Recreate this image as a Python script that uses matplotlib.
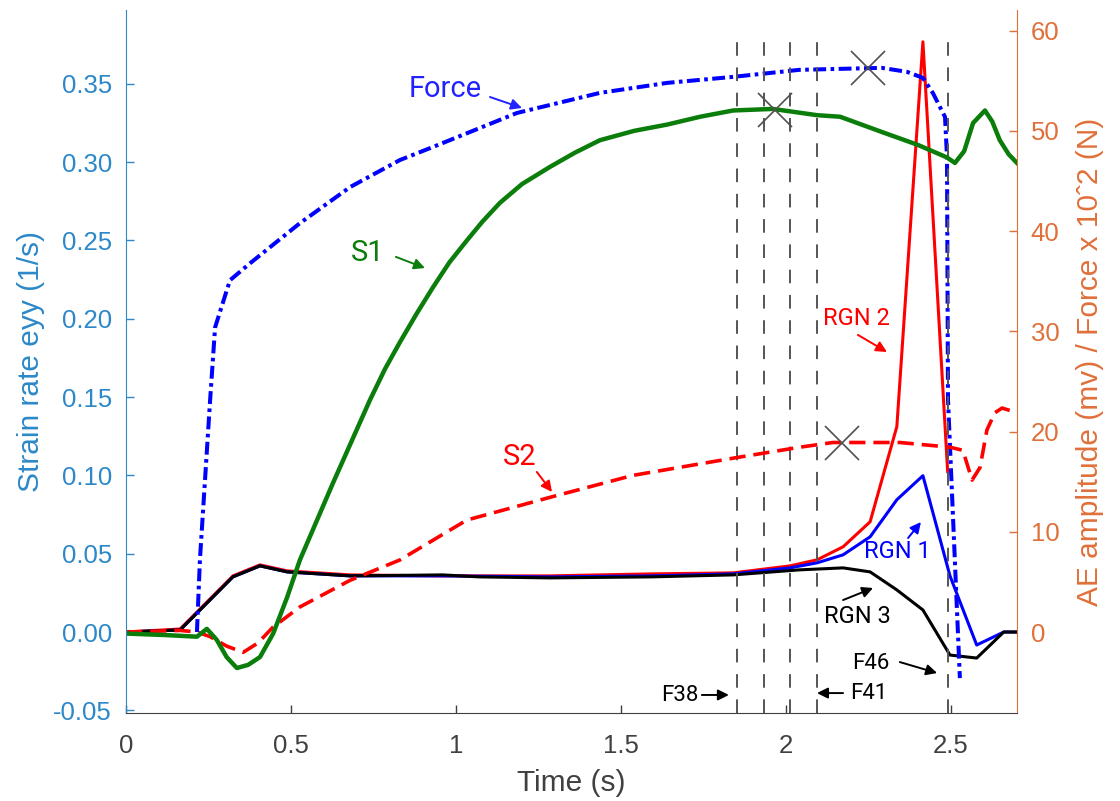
"""
Strain rate / AE amplitude / force vs time
"""

import matplotlib
matplotlib.use('Agg')
import matplotlib.pyplot as plt

plt.rcParams['font.family'] = ['Liberation Sans', 'DejaVu Sans']

# strain rate (left axis)
s1_t = [0, 0.124, 0.215, 0.245, 0.275, 0.305, 0.336, 0.37, 0.406, 0.446, 0.488, 0.527,
        0.627, 0.739, 0.785, 0.83, 0.88, 0.93, 0.98, 1.033, 1.08, 1.133, 1.2, 1.285,
        1.36, 1.436, 1.54, 1.64, 1.74, 1.84, 1.96, 2.094, 2.164, 2.294, 2.4, 2.488,
        2.512, 2.54, 2.567, 2.603, 2.625, 2.648, 2.675, 2.7]
s1_v = [-0.001, -0.002, -0.003, 0.002, -0.005, -0.016, -0.023, -0.021, -0.016, -0.001,
        0.022, 0.046, 0.095, 0.148, 0.168, 0.185, 0.203, 0.220, 0.236, 0.250, 0.262,
        0.274, 0.286, 0.297, 0.306, 0.314, 0.320, 0.324, 0.329, 0.333, 0.334, 0.330,
        0.329, 0.319, 0.311, 0.303, 0.2995, 0.307, 0.325, 0.333, 0.326, 0.314, 0.305,
        0.2995]

s2_t = [0, 0.164, 0.215, 0.255, 0.305, 0.355, 0.4, 0.445, 0.527, 0.679, 0.83, 1.033,
        1.285, 1.536, 1.84, 2.042, 2.142, 2.345, 2.497, 2.536, 2.564, 2.588, 2.609,
        2.633, 2.655, 2.7]
s2_v = [0, 0.001, 0, -0.003, -0.009, -0.013, -0.007, 0.003, 0.016, 0.033, 0.046, 0.0715,
        0.086, 0.100, 0.111, 0.118, 0.121, 0.121, 0.118, 0.116, 0.097, 0.105, 0.129,
        0.140, 0.143, 0.140]

# force x 10^2 and AE amplitude (right axis)
force_t = [0.215, 0.224, 0.255, 0.27, 0.315, 0.376, 0.527, 0.679, 0.83, 0.93, 1.185,
           1.436, 1.64, 1.84, 2.04, 2.29, 2.367, 2.415, 2.445, 2.482, 2.488, 2.491, 2.527]
force_r = [0, 7.2, 23.2, 30.4, 35.1, 36.8, 40.8, 44.4, 47.1, 48.4, 51.8,
           53.8, 54.8, 55.4, 56.1, 56.3, 55.9, 55.3, 53.8, 51.4, 47.4, 23.2, -4.6]

rgn1_t = [0, 0.164, 0.324, 0.406, 0.488, 0.679, 0.96, 1.285, 1.59, 1.84, 2.012, 2.094,
          2.173, 2.255, 2.336, 2.415, 2.497, 2.578, 2.66, 2.7]
rgn1_r = [0, 0.2, 5.5, 6.6, 6.0, 5.6, 5.6, 5.5, 5.6, 5.8, 6.4, 6.9,
          7.7, 9.5, 13.2, 15.6, 5.6, -1.3, 0, 0]

rgn2_t = [0, 0.164, 0.324, 0.406, 0.488, 0.679, 0.96, 1.285, 1.59, 1.84, 2.012, 2.094,
          2.173, 2.255, 2.336, 2.415, 2.49]
rgn2_r = [0, 0.3, 5.6, 6.7, 6.1, 5.7, 5.6, 5.6, 5.8, 5.9, 6.6, 7.2,
          8.5, 11.0, 20.5, 58.9, 16.0]

rgn3_t = [0, 0.164, 0.324, 0.406, 0.488, 0.679, 0.96, 1.07, 1.285, 1.59, 1.84, 2.04,
          2.173, 2.255, 2.336, 2.415, 2.497, 2.578, 2.66, 2.7]
rgn3_r = [0, 0.2, 5.5, 6.6, 6.0, 5.6, 5.7, 5.5, 5.4, 5.5, 5.7, 6.2,
          6.4, 6.0, 4.2, 2.2, -2.3, -2.6, 0, 0]

# frames F38..F41, F46
frame_t = [1.852, 1.932, 2.012, 2.094, 2.491]

# maxima markers
s1_max = (1.967, 0.3333)
s2_max = (2.17, 0.1207)
force_max = (2.248, 56.3)

left_c = '#2c88c8'
right_c = '#e0703a'
grey = '#404040'

fig = plt.figure(figsize=(11.2, 8.01), dpi=100)
rect = [0.1125, 0.1099, 0.7955, 0.8777]
ax2 = fig.add_axes(rect)
ax = fig.add_axes(rect, sharex=ax2)
ax.patch.set_visible(False)
ax2.yaxis.tick_right()
ax2.yaxis.set_label_position('right')

ylo, yhi = -0.0517, 0.3972
ax.set_xlim(0, 2.7)
ax.set_ylim(ylo, yhi)
ax2.set_ylim(-8.08, 62.08)

# right axis series
ax2.plot(rgn2_t, rgn2_r, color='#ff0000', lw=2.2)
ax2.plot(rgn1_t, rgn1_r, color='#0000ff', lw=2.2)
ax2.plot(rgn3_t, rgn3_r, color='black', lw=2.2)
ax2.plot(force_t, force_r, color='#0000ff', lw=2.9, ls=(0, (3.2, 1.1, 0.9, 1.1)))
ax2.plot(*force_max, marker='x', ms=24, mew=1.2, color='#505050')

# left axis series
ax.vlines(frame_t, ylo, 0.38, colors='#555555', lw=1.4, linestyles=(0, (7, 6)))
ax.plot(s2_t, s2_v, color='#ff0000', lw=2.6, ls=(0, (4.5, 2.2)))
ax.plot(s1_t, s1_v, color='#0a7d0a', lw=3.2)
ax.plot(*s1_max, marker='x', ms=24, mew=1.2, color='#505050')
ax.plot(*s2_max, marker='x', ms=24, mew=1.2, color='#505050')

# axes styling
ax.set_xticks([0, 0.5, 1, 1.5, 2, 2.5])
ax.set_xticklabels(['0', '0.5', '1', '1.5', '2', '2.5'])
ax.set_yticks([-0.05, 0, 0.05, 0.10, 0.15, 0.20, 0.25, 0.30, 0.35])
ax.set_yticklabels(['-0.05', '0.00', '0.05', '0.10', '0.15', '0.20', '0.25', '0.30', '0.35'])
ax2.set_yticks(range(0, 61, 10))

ax.tick_params(axis='x', direction='in', length=6, width=1, color=grey,
               labelcolor=grey, labelsize=18.5, pad=15)
ax.tick_params(axis='y', direction='in', length=6, width=1, color=left_c,
               labelcolor=left_c, labelsize=18.5, pad=10)
ax2.tick_params(axis='y', direction='in', length=6, width=1, color=right_c,
                labelcolor=right_c, labelsize=18.5, pad=10)
ax2.tick_params(axis='x', bottom=False, labelbottom=False)

for s in ['top', 'right']:
    ax.spines[s].set_visible(False)
for s in ['top', 'left', 'bottom']:
    ax2.spines[s].set_visible(False)
ax.spines['left'].set_color(left_c)
ax.spines['bottom'].set_color(grey)
ax2.spines['right'].set_color(right_c)

ax.set_xlabel('Time (s)', fontsize=21.5, color=grey, labelpad=8)
ax.set_ylabel('Strain rate eyy (1/s)', fontsize=21.5, color=left_c, labelpad=6)
ax2.set_ylabel('AE amplitude (mv) / Force x 10ˆ2 (N)', fontsize=21.5,
               color=right_c, labelpad=12)

# annotations
ann = dict(family=['Roboto', 'DejaVu Sans'], ha='center', va='center')


def label(text, xy, head, tail, color, size):
    ax.text(xy[0], xy[1], text, color=color, fontsize=size, **ann)
    ax.annotate('', xy=head, xytext=tail,
                arrowprops=dict(arrowstyle='-|>', color=color, lw=1.4,
                                mutation_scale=16, shrinkA=0, shrinkB=0))


label('Force', (0.967, 0.347), (1.2, 0.3346), (1.103, 0.3416), '#2222ff', 21)
label('S1', (0.733, 0.242), (0.906, 0.2324), (0.818, 0.2395), '#0a7d0a', 21)
label('S2', (1.194, 0.1117), (1.291, 0.0894), (1.245, 0.1022), '#ff0000', 21)
label('RGN 2', (2.215, 0.1999), (2.306, 0.1788), (2.218, 0.1897), '#ff0000', 17)
label('RGN 1', (2.339, 0.0511), (2.409, 0.0702), (2.370, 0.060), '#0000ff', 17)
label('RGN 3', (2.215, 0.0096), (2.264, 0.0281), (2.173, 0.0204), 'black', 17)
label('F46', (2.258, -0.0204), (2.458, -0.0262), (2.345, -0.0192), 'black', 16)
label('F41', (2.252, -0.039), (2.094, -0.039), (2.173, -0.039), 'black', 16)
label('F38', (1.679, -0.0405), (1.827, -0.0402), (1.745, -0.0402), 'black', 16)

fig.savefig('out.png', dpi=100)
plt.close(fig)
